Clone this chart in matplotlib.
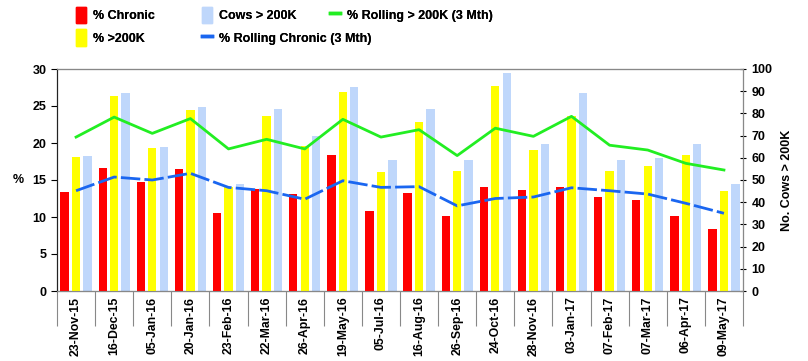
import matplotlib
matplotlib.use("Agg")
import matplotlib.pyplot as plt
import numpy as np
from matplotlib.lines import Line2D
from matplotlib.patches import Patch

dates = ["23-Nov-15", "16-Dec-15", "05-Jan-16", "20-Jan-16", "23-Feb-16", "22-Mar-16",
         "26-Apr-16", "19-May-16", "05-Jul-16", "16-Aug-16", "26-Sep-16", "24-Oct-16",
         "28-Nov-16", "03-Jan-17", "07-Feb-17", "07-Mar-17", "06-Apr-17", "09-May-17"]
pct_chronic = [13.4, 16.6, 14.7, 16.5, 10.5, 13.8, 13.1, 18.4, 10.85, 13.2, 10.1, 14.1,
               13.6, 14.1, 12.65, 12.3, 10.1, 8.4]
pct_over200k = [18.1, 26.3, 19.3, 24.4, 14.0, 23.6, 19.6, 26.9, 16.1, 22.8, 16.2, 27.7,
                19.1, 23.7, 16.2, 16.9, 18.4, 13.55]
cows_over200k = [61, 89, 65, 83, 48, 82, 70, 92, 59, 82, 59, 98, 66, 89, 59, 60, 66, 48]
rolling_200k = [20.8, 23.5, 21.3, 23.3, 19.2, 20.5, 19.2, 23.2, 20.8, 21.8, 18.3, 22.0,
                20.9, 23.6, 19.7, 19.05, 17.25, 16.35]
rolling_chronic = [13.55, 15.4, 15.0, 15.9, 14.0, 13.55, 12.4, 14.9, 14.0, 14.1, 11.5, 12.5,
                   12.7, 13.95, 13.55, 13.1, 11.85, 10.5]

RED = "#FF0000"
YEL = "#FFFF00"
LBLUE = "#BFD7FB"
GREEN = "#22EE22"
BLUE = "#1A66F0"

plt.rcParams['font.family'] = ['Liberation Sans', 'DejaVu Sans']
plt.rcParams['font.weight'] = 'bold'

fig = plt.figure(figsize=(8.08, 3.61), dpi=100)
ax = fig.add_axes([57/808, 1-291/361, (743-57)/808, (291-69)/361])
ax2 = ax.twinx()
ax.set_zorder(ax2.get_zorder() + 1)
ax.patch.set_visible(False)

x = np.arange(len(dates))
w = 0.22
off = 0.30
ax.bar(x - off, pct_chronic, width=w, color=RED, zorder=2)
ax.bar(x, pct_over200k, width=w, color=YEL, zorder=2)
ax2.bar(x + off, cows_over200k, width=w, color=LBLUE, zorder=2)
ax.plot(x, rolling_200k, color=GREEN, lw=2, zorder=3)
ax.plot(x, rolling_chronic, color=BLUE, lw=2, dashes=(7, 1.5), zorder=3)

ax.set_xlim(-0.5, len(dates) - 0.5)
ax.set_ylim(0, 30)
ax2.set_ylim(0, 100)
ax.set_yticks(np.arange(0, 31, 5))
ax2.set_yticks(np.arange(0, 101, 10))

ax.set_xticks(x)
ax.set_xticklabels(dates, rotation=90, fontsize=8.8, fontweight='bold')
ax.set_xticks(np.arange(-0.5, len(dates), 1), minor=True)
ax.tick_params(axis='x', which='major', length=0, pad=4)
ax.tick_params(axis='x', which='minor', length=25, width=0.8, color='#888888')
ax.tick_params(axis='y', direction='out', length=4, labelsize=9, width=0.8)
ax2.tick_params(axis='y', direction='inout', length=5, labelsize=9, width=0.8)
for lab in ax.get_yticklabels() + ax2.get_yticklabels():
    lab.set_fontweight('bold')

for s in ['top', 'right']:
    ax.spines[s].set_color('#888888')
ax.spines['left'].set_color('#222222')
ax.spines['bottom'].set_color('#888888')
ax2.spines['right'].set_color('#444444')

ax.set_ylabel("%", rotation=0, fontsize=9, fontweight='bold', labelpad=10, va='center')
ax2.set_ylabel("No. Cows > 200K", fontsize=9, fontweight='bold', labelpad=6)

prop = {'weight': 'bold', 'size': 9}
cols = [
    ([Patch(color=RED), Patch(color=YEL)], ["% Chronic", "% >200K"], 67),
    ([Patch(color=LBLUE), Line2D([], [], color=BLUE, lw=2.5)],
     ["Cows > 200K", "% Rolling Chronic (3 Mth)"], 193),
    ([Line2D([], [], color=GREEN, lw=2.5)], ["% Rolling > 200K (3 Mth)"], 321),
]
for h, l, xp in cols:
    leg = fig.legend(h, l, loc='upper left', bbox_to_anchor=(xp/808, 1 + 2/361),
                     frameon=False, prop=prop, handlelength=0.85, handleheight=1.65,
                     labelspacing=0.5, handletextpad=0.55, borderpad=0.2)
    fig.add_artist(leg)

fig.savefig("out.png", dpi=100)
